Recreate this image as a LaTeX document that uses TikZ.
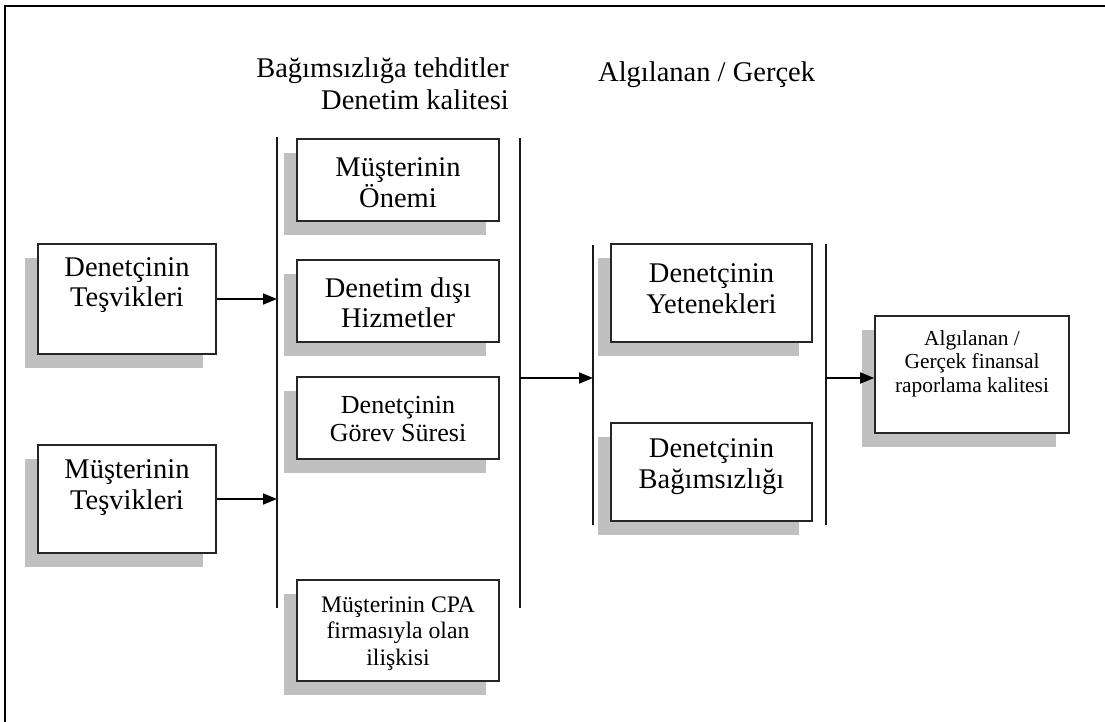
\documentclass[tikz,border=0pt]{standalone}
\usepackage{fontspec}
\setmainfont{Liberation Serif}
\usetikzlibrary{arrows.meta,shadows}
\definecolor{shadowgray}{RGB}{192,192,192}
\begin{document}
\begin{tikzpicture}[x=1pt,y=-1pt,
  box/.style={draw=black!85, line width=1.6pt, fill=white, rectangle, inner sep=0pt,
    drop shadow={shadow xshift=-13pt, shadow yshift=-14pt, fill=shadowgray, opacity=1}},
  txt/.style={align=center, inner sep=0pt, font=\fontsize{28.5}{30.5}\selectfont},
  txtmid/.style={align=center, inner sep=0pt, font=\fontsize{26}{28}\selectfont},
  txtsmall/.style={align=center, inner sep=0pt, font=\fontsize{23.7}{26.5}\selectfont},
  txttiny/.style={align=center, inner sep=0pt, font=\fontsize{21.4}{23.5}\selectfont},
  head/.style={inner sep=0pt, font=\fontsize{28.5}{32}\selectfont},
  bar/.style={line width=1.6pt, black!90},
  arr/.style={line width=1.6pt, -{Triangle[length=14pt,width=11pt]}}]
\useasboundingbox (0,0) rectangle (1105,722);

% outer frame (top and left edges)
\draw[line width=2.2pt] (5,722) -- (5,6) -- (1105,6);

% column headings
\node[head, align=right, anchor=east] (h1) at (509,84) {Bağımsızlığa tehditler\\Denetim kalitesi};
\node[head, anchor=west] (h2) at (598,75) {Algılanan / Gerçek};

% vertical collector bars
\coordinate (v1top) at (277,137); \coordinate (v1bot) at (277,608);
\coordinate (v2top) at (520,138); \coordinate (v2bot) at (520,608);
\coordinate (v3top) at (593,245); \coordinate (v3bot) at (593,525);
\coordinate (v4top) at (826,244); \coordinate (v4bot) at (826,525);
\draw[bar] (v1top) -- (v1bot);
\draw[bar] (v2top) -- (v2bot);
\draw[bar] (v3top) -- (v3bot);
\draw[bar] (v4top) -- (v4bot);

% incentive boxes
\node[box, minimum width=178pt, minimum height=110pt] (b1) at (127,299) {};
\node[txt] (b1t) at (127,285) {Denetçinin\\Teşvikleri};
\node[box, minimum width=178pt, minimum height=108pt] (b2) at (127,499) {};
\node[txt] (b2t) at (127,487.5) {Müşterinin\\Teşvikleri};

% threats to independence
\node[box, minimum width=202pt, minimum height=82pt] (m1) at (398,180) {};
\node[txt] (m1t) at (398,182.5) {Müşterinin\\Önemi};
\node[box, minimum width=202pt, minimum height=82pt] (m2) at (398,301) {};
\node[txt] (m2t) at (398,303) {Denetim dışı\\Hizmetler};
\node[box, minimum width=202pt, minimum height=82pt] (m3) at (398,418) {};
\node[txtmid] (m3t) at (398,419) {Denetçinin\\Görev Süresi};
\node[box, minimum width=202pt, minimum height=101pt] (m4) at (398,630.5) {};
\node[txtsmall] (m4t) at (398,633.5) {Müşterinin CPA\\firmasıyla olan\\ilişkisi};

% audit quality components
\node[box, minimum width=201pt, minimum height=98pt] (r1) at (711.5,293) {};
\node[txt] (r1t) at (711.5,288.5) {Denetçinin\\Yetenekleri};
\node[box, minimum width=201pt, minimum height=98pt] (r2) at (711.5,472) {};
\node[txt] (r2t) at (711.5,466.5) {Denetçinin\\Bağımsızlığı};

% outcome
\node[box, minimum width=194pt, minimum height=117pt] (f) at (972,374.5) {};
\node[txttiny] (ft) at (972,363.5) {Algılanan /\\Gerçek finansal\\raporlama kalitesi};

% connectors
\coordinate (j2) at (520,378);
\coordinate (j4) at (826,378);
\draw[arr] (b1.east) -- (b1.east -| v1top);
\draw[arr] (b2.east) -- (b2.east -| v1top);
\draw[arr] (j2) -- (j2 -| v3top);
\draw[arr] (j4) -- (j4 -| f.west);
\end{tikzpicture}
\end{document}
